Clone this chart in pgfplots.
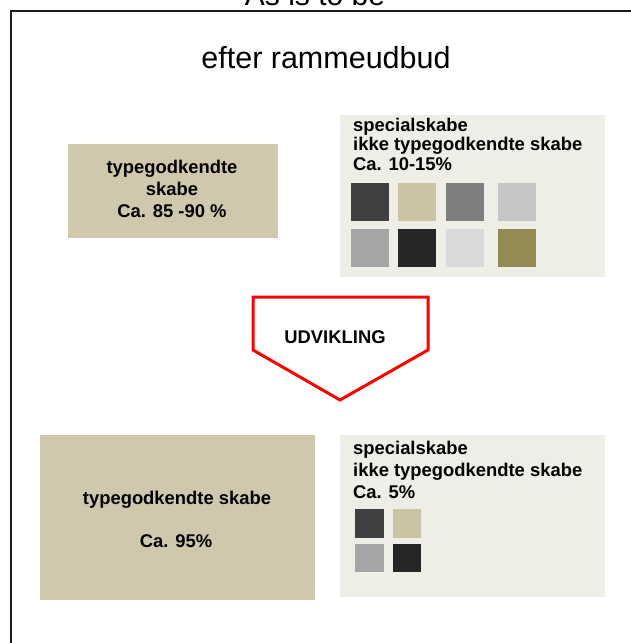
\documentclass[border=0pt]{standalone}
\usepackage{fontspec}
\setmainfont{Liberation Sans}
\usepackage{pgfplots}
\pgfplotsset{compat=1.18}
\definecolor{tanbox}{HTML}{CFC8AD}
\definecolor{lightbox}{HTML}{EEEDE6}
\definecolor{sqA}{HTML}{404040}
\definecolor{sqB}{HTML}{CAC4A4}
\definecolor{sqC}{HTML}{7F7F7F}
\definecolor{sqD}{HTML}{C5C5C5}
\definecolor{sqE}{HTML}{A5A5A5}
\definecolor{sqF}{HTML}{262626}
\definecolor{sqG}{HTML}{D9D9D9}
\definecolor{sqH}{HTML}{948A54}
\definecolor{framec}{HTML}{1E1E1E}
\tikzset{bt/.style={font=\fontsize{18.4}{22}\selectfont\bfseries}}
\begin{document}
\begin{tikzpicture}
\begin{axis}[width=631pt,height=643pt,scale only axis,
  xmin=0,xmax=631,ymin=0,ymax=643,y dir=reverse,
  hide axis, clip=true]
% frame
\addplot[draw=framec,line width=1.8pt] coordinates {(11,700) (11,11) (700,11)};
% title
\node[anchor=base,font=\fontsize{30}{36}\selectfont] at (axis cs:315,5) {As is to be};
\node[anchor=base,font=\fontsize{30.5}{37}\selectfont] at (axis cs:326,68) {efter rammeudbud};
% box 1
\addplot[fill=tanbox,draw=none] coordinates {(68,144) (278,144) (278,238) (68,238)} -- cycle;
\node[anchor=base,bt] at (axis cs:172,173) {typegodkendte};
\node[anchor=base,bt] at (axis cs:172,195) {skabe};
\node[anchor=base,bt] at (axis cs:172,217) {Ca. 85 -90 \%};
% box 2
\addplot[fill=lightbox,draw=none] coordinates {(340,115) (605,115) (605,277) (340,277)} -- cycle;
\node[anchor=base west,inner sep=0pt,bt] at (axis cs:353,131) {specialskabe};
\node[anchor=base west,inner sep=0pt,bt] at (axis cs:353,150) {ikke typegodkendte skabe};
\node[anchor=base west,inner sep=0pt,bt] at (axis cs:353,170) {Ca. 10-15\%};
\addplot[fill=sqA,draw=none] coordinates {(351,183) (389,183) (389,221) (351,221)} -- cycle;
\addplot[fill=sqB,draw=none] coordinates {(398,183) (436,183) (436,221) (398,221)} -- cycle;
\addplot[fill=sqC,draw=none] coordinates {(446,183) (484,183) (484,221) (446,221)} -- cycle;
\addplot[fill=sqD,draw=none] coordinates {(498,183) (536,183) (536,221) (498,221)} -- cycle;
\addplot[fill=sqE,draw=none] coordinates {(351,229) (389,229) (389,267) (351,267)} -- cycle;
\addplot[fill=sqF,draw=none] coordinates {(398,229) (436,229) (436,267) (398,267)} -- cycle;
\addplot[fill=sqG,draw=none] coordinates {(446,229) (484,229) (484,267) (446,267)} -- cycle;
\addplot[fill=sqH,draw=none] coordinates {(498,229) (536,229) (536,267) (498,267)} -- cycle;
% arrow
\addplot[draw=red,line width=3pt,fill=white,line join=miter] coordinates {(253,297) (428,297) (428,350) (340,400) (253,350)} -- cycle;
\node[anchor=base,bt] at (axis cs:335,343) {UDVIKLING};
% box 3
\addplot[fill=tanbox,draw=none] coordinates {(40,435) (315,435) (315,600) (40,600)} -- cycle;
\node[anchor=base,bt] at (axis cs:177,504) {typegodkendte skabe};
\node[anchor=base,bt] at (axis cs:176,547) {Ca. 95\%};
% box 4
\addplot[fill=lightbox,draw=none] coordinates {(340,435) (605,435) (605,597) (340,597)} -- cycle;
\node[anchor=base west,inner sep=0pt,bt] at (axis cs:353,454) {specialskabe};
\node[anchor=base west,inner sep=0pt,bt] at (axis cs:353,476) {ikke typegodkendte skabe};
\node[anchor=base west,inner sep=0pt,bt] at (axis cs:353,498) {Ca. 5\%};
\addplot[fill=sqA,draw=none] coordinates {(355,509) (384,509) (384,538) (355,538)} -- cycle;
\addplot[fill=sqB,draw=none] coordinates {(393,509) (421,509) (421,538) (393,538)} -- cycle;
\addplot[fill=sqE,draw=none] coordinates {(355,544) (384,544) (384,572) (355,572)} -- cycle;
\addplot[fill=sqF,draw=none] coordinates {(393,544) (421,544) (421,572) (393,572)} -- cycle;
\end{axis}
\pgfresetboundingbox
\path (current axis.south west) rectangle (current axis.north east);
\end{tikzpicture}
\end{document}
